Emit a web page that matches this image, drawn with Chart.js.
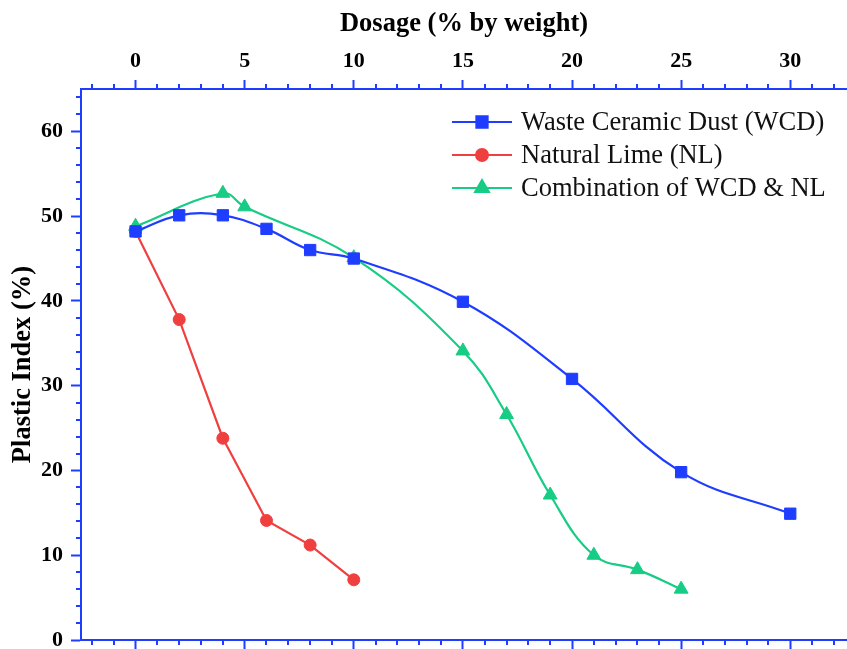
<!DOCTYPE html>
<html>
<head>
<meta charset="utf-8">
<script src="https://cdn.jsdelivr.net/npm/chart.js@4.4.0/dist/chart.umd.min.js"></script>
<style>
  html, body { margin: 0; padding: 0; background: #fff; }
</style>
</head>
<body>
<canvas id="piChart" width="847" height="649"></canvas>
<script>
// data
const wcdDosage = [0, 2, 4, 6, 8, 10, 15, 20, 25, 30];
const wcdPI = [48.2, 50.1, 50.1, 48.5, 46.0, 45.0, 39.9, 30.8, 19.8, 14.9];
const nlDosage = [0, 2, 4, 6, 8, 10];
const nlPI = [48.2, 37.8, 23.8, 14.1, 11.2, 7.1];
const combDosage = [0, 4, 5, 10, 15, 17, 19, 21, 23, 25];
const combPI = [48.8, 52.7, 51.1, 45.1, 34.1, 26.6, 17.1, 10.0, 8.3, 6.0];

const seriesNames = ['Waste Ceramic Dust (WCD)', 'Natural Lime (NL)', 'Combination of WCD & NL'];
const xTickValues = [0, 5, 10, 15, 20, 25, 30];
const yTickValues = [0, 10, 20, 30, 40, 50, 60];

const BLUE = '#1f3dff';
const RED = '#ef3f3f';
const GREEN = '#17cc84';
const AXIS = '#1f3dff';
const FONT = "'Liberation Serif', 'Times New Roman', serif";

const toPoints = (xs, ys) => xs.map((x, i) => ({ x: x, y: ys[i] }));

// minor ticks on the frame
const minorTicks = {
  id: 'minorTicks',
  afterDraw(chart) {
    const { ctx, chartArea } = chart;
    const xs = chart.scales.x, ys = chart.scales.y;
    ctx.save();
    ctx.strokeStyle = AXIS;
    ctx.lineWidth = 2;
    ctx.beginPath();
    for (let v = -2; v <= 32; v++) {
      if (v % 5 === 0) continue;
      const px = Math.round(xs.getPixelForValue(v));
      ctx.moveTo(px, chartArea.top);
      ctx.lineTo(px, chartArea.top - 5);
      ctx.moveTo(px, chartArea.bottom);
      ctx.lineTo(px, chartArea.bottom + 5);
    }
    for (let v = 2; v <= 64; v += 2) {
      if (v % 10 === 0) continue;
      const py = Math.round(ys.getPixelForValue(v));
      ctx.moveTo(chartArea.left, py);
      ctx.lineTo(chartArea.left - 5, py);
    }
    ctx.stroke();
    ctx.restore();
  }
};

// legend inside the plot, line + marker like the original
const insideLegend = {
  id: 'insideLegend',
  afterDraw(chart) {
    const ctx = chart.ctx;
    const x0 = 452, x1 = 512, top = 122, rowH = 33;
    ctx.save();
    chart.data.datasets.forEach((ds, i) => {
      const y = top + i * rowH;
      ctx.strokeStyle = ds.borderColor;
      ctx.lineWidth = 2;
      ctx.beginPath();
      ctx.moveTo(x0, y);
      ctx.lineTo(x1, y);
      ctx.stroke();
      ctx.fillStyle = ds.pointBackgroundColor;
      ctx.strokeStyle = ds.pointBorderColor;
      Chart.helpers.drawPoint(ctx, {
        pointStyle: ds.pointStyle, radius: ds.pointRadius, rotation: 0, borderWidth: 1
      }, (x0 + x1) / 2, y);
      ctx.fillStyle = '#111';
      ctx.font = '26.5px ' + FONT;
      ctx.textBaseline = 'middle';
      ctx.textAlign = 'left';
      ctx.fillText(ds.label, 521, y + 1);
    });
    ctx.restore();
  }
};

const noPad = (s) => { s.paddingLeft = 0; s.paddingRight = 0; s.paddingTop = 0; s.paddingBottom = 0; };

const ctx = document.getElementById('piChart').getContext('2d');

const chart = new Chart(ctx, {
  type: 'line',
  data: {
    datasets: [{
      label: seriesNames[0],
      data: toPoints(wcdDosage, wcdPI),
      borderColor: BLUE,
      borderWidth: 2.2,
      tension: 0.4,
      pointStyle: 'rect',
      pointRadius: 8,
      pointBackgroundColor: BLUE,
      pointBorderColor: BLUE,
      pointBorderWidth: 1
    }, {
      label: seriesNames[1],
      data: toPoints(nlDosage, nlPI),
      borderColor: RED,
      borderWidth: 2.2,
      tension: 0,
      pointStyle: 'circle',
      pointRadius: 6,
      pointBackgroundColor: RED,
      pointBorderColor: RED,
      pointBorderWidth: 1
    }, {
      label: seriesNames[2],
      data: toPoints(combDosage, combPI),
      borderColor: GREEN,
      borderWidth: 2.2,
      tension: 0.4,
      pointStyle: 'triangle',
      pointRadius: 8,
      pointBackgroundColor: GREEN,
      pointBorderColor: GREEN,
      pointBorderWidth: 1
    }]
  },
  options: {
    responsive: false,
    animation: false,
    devicePixelRatio: 1,
    layout: { padding: 0, autoPadding: false },
    plugins: {
      legend: { display: false },
      tooltip: { enabled: false }
    },
    scales: {
      x: {
        type: 'linear',
        position: 'top',
        min: -2.5,
        max: 32.6,
        afterBuildTicks: (s) => { s.ticks = xTickValues.map(v => ({ value: v })); },
        afterFit: (s) => { s.height = 89; noPad(s); },
        grid: { drawOnChartArea: false, tickLength: 9, tickWidth: 2, tickColor: AXIS },
        border: { color: AXIS, width: 2 },
        ticks: {
          color: '#000', padding: 5, maxRotation: 0, autoSkip: false,
          font: { family: FONT, size: 22, weight: 'bold' }
        },
        title: {
          display: true, text: 'Dosage (% by weight)', color: '#000',
          padding: { top: 8, bottom: 0 },
          font: { family: FONT, size: 26.5, weight: 'bold' }
        }
      },
      x2: {
        type: 'linear',
        position: 'bottom',
        min: -2.5,
        max: 32.6,
        afterBuildTicks: (s) => { s.ticks = xTickValues.map(v => ({ value: v })); },
        afterFit: (s) => { s.height = 9; noPad(s); },
        grid: { drawOnChartArea: false, tickLength: 9, tickWidth: 2, tickColor: AXIS },
        border: { color: AXIS, width: 2 },
        ticks: { display: false }
      },
      y: {
        type: 'linear',
        position: 'left',
        min: 0,
        max: 65,
        afterBuildTicks: (s) => { s.ticks = yTickValues.map(v => ({ value: v })); },
        afterFit: (s) => { s.width = 81; noPad(s); },
        grid: { drawOnChartArea: false, tickLength: 10, tickWidth: 2, tickColor: AXIS },
        border: { color: AXIS, width: 2 },
        ticks: {
          color: '#000', padding: 8, autoSkip: false,
          font: { family: FONT, size: 22, weight: 'bold' }
        },
        title: {
          display: true, text: 'Plastic Index (%)', color: '#000',
          padding: { top: 7, bottom: 0 },
          font: { family: FONT, size: 26.5, weight: 'bold' }
        }
      }
    }
  },
  plugins: [minorTicks, insideLegend]
});
</script>
</body>
</html>
